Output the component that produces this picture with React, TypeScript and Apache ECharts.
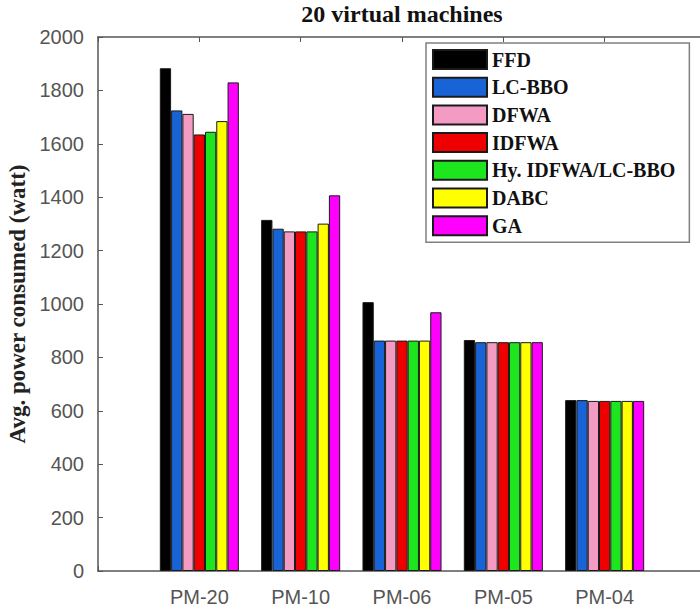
import React, { useEffect, useRef } from 'react';
import * as echarts from 'echarts';

// Test cases (physical machine counts) and power draw per algorithm, in watts
const categories = ['PM-20', 'PM-10', 'PM-06', 'PM-05', 'PM-04'];
const seriesNames = ['FFD', 'LC-BBO', 'DFWA', 'IDFWA', 'Hy. IDFWA/LC-BBO', 'DABC', 'GA'];
const ffd = [1883, 1315, 1007, 865, 640];
const lcBbo = [1725, 1282, 863, 857, 640];
const dfwa = [1712, 1272, 863, 857, 637];
const idfwa = [1635, 1272, 863, 857, 637];
const hybrid = [1645, 1272, 863, 857, 637];
const dabc = [1685, 1301, 863, 857, 637];
const ga = [1830, 1407, 969, 857, 637];
const seriesColors = ['#000000', '#1864d6', '#f49bc4', '#ee0000', '#1ee61e', '#ffff00', '#ff00ff'];

const yMin = 0;
const yMax = 2000;
const yStep = 200;

const titleText = '20 virtual machines';
const yAxisTitle = 'Avg. power consumed (watt)';

export default function App() {
  const ref = useRef<HTMLDivElement>(null);

  useEffect(() => {
    if (!ref.current) return;
    const chart = echarts.init(ref.current, undefined, { renderer: 'svg' });

    // Axis runs from slot 0 to slot 6 with the groups on slots 1..5
    const xData = ['', ...categories, ''];
    const pad = (v: number[]) => [null, ...v, null];
    const values = [ffd, lcBbo, dfwa, idfwa, hybrid, dabc, ga];

    const axisColor = '#555555';
    const tickFont = {
      fontFamily: 'Liberation Sans, Arial, sans-serif',
      fontSize: 20,
      color: '#555555',
    };

    chart.setOption({
      animation: false,
      backgroundColor: '#ffffff',
      grid: {
        left: 98,
        right: -6,
        top: 37,
        bottom: 44,
        containLabel: false,
        outerBoundsMode: 'none',
      },
      graphic: [
        {
          type: 'text',
          x: 402,
          y: 14,
          style: {
            text: titleText,
            fontFamily: 'Liberation Serif, Times New Roman, serif',
            fontWeight: 'bold',
            fontSize: 24,
            fill: '#111111',
            textAlign: 'center',
            textVerticalAlign: 'middle',
          },
        },
      ],
      legend: {
        data: seriesNames,
        orient: 'vertical',
        left: 426,
        top: 43,
        itemWidth: 54,
        itemHeight: 19,
        itemGap: 6.7,
        padding: [6, 14, 6, 6],
        backgroundColor: '#ffffff',
        borderColor: '#808080',
        borderWidth: 1.5,
        selectedMode: false,
        icon: 'rect',
        textStyle: {
          fontFamily: 'Liberation Serif, Times New Roman, serif',
          fontWeight: 'bold',
          fontSize: 20,
          lineHeight: 19,
          color: '#111111',
        },
      },
      xAxis: [
        {
          type: 'category',
          data: xData,
          boundaryGap: false,
          position: 'bottom',
          axisLine: { lineStyle: { color: axisColor, width: 1.5 } },
          axisTick: { inside: true, length: 5, lineStyle: { color: axisColor } },
          axisLabel: { ...tickFont, margin: 16, interval: 0 },
          splitLine: { show: false },
        },
        {
          type: 'category',
          data: xData,
          boundaryGap: false,
          position: 'top',
          axisLine: { lineStyle: { color: axisColor, width: 1.5 } },
          axisTick: { inside: true, length: 5, lineStyle: { color: axisColor } },
          axisLabel: { show: false },
          splitLine: { show: false },
        },
      ],
      yAxis: {
        type: 'value',
        min: yMin,
        max: yMax,
        interval: yStep,
        position: 'left',
        name: yAxisTitle,
        nameLocation: 'middle',
        nameGap: 64,
        nameTextStyle: {
          fontFamily: 'Liberation Serif, Times New Roman, serif',
          fontWeight: 'bold',
          fontSize: 23,
          color: '#222222',
        },
        axisLine: { show: true, lineStyle: { color: axisColor, width: 1.5 } },
        axisTick: { show: true, inside: true, length: 5, lineStyle: { color: axisColor } },
        axisLabel: { ...tickFont, margin: 14, formatter: (v: number) => String(v) },
        splitLine: { show: false },
      },
      series: seriesNames.map((name, i) => ({
        name,
        type: 'bar',
        xAxisIndex: 0,
        yAxisIndex: 0,
        data: pad(values[i]),
        barGap: '0%',
        barCategoryGap: '22%',
        itemStyle: {
          color: seriesColors[i],
          borderColor: '#1a1a1a',
          borderWidth: 1,
        },
        emphasis: { disabled: true },
      })),
    });

    return () => chart.dispose();
  }, []);

  return (
    <div
      ref={ref}
      style={{ position: 'absolute', left: 0, top: 0, width: 700, height: 615, background: '#fff' }}
    />
  );
}
